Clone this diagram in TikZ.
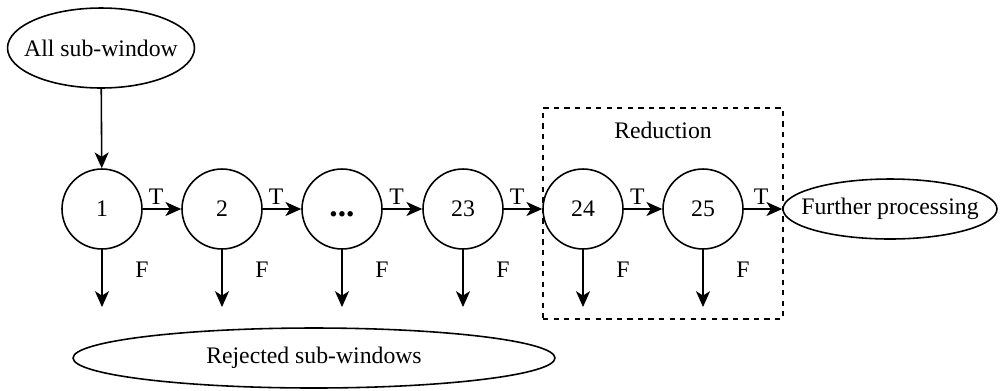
\documentclass[tikz,border=0pt]{standalone}
\usepackage{fontspec}
\setmainfont{Liberation Serif}
\usetikzlibrary{arrows.meta, shapes.geometric}

\tikzset{
   stage/.style={draw, circle, minimum size=1.6cm, inner sep=0pt},
   terminal/.style={draw, ellipse, inner xsep=-0.26cm, inner ysep=0pt},
   arr/.style={-{Stealth[length=9pt, width=8pt, inset=2.5pt]}}
}

\begin{document}
\begin{tikzpicture}[x=0.02cm, y=-0.02cm, line width=0.9pt,
      font=\fontsize{13.5}{16}\selectfont]
   \useasboundingbox (0,0) rectangle (1000,390);
   \def \Stages {
      1/102/1,
      2/222/2,
      3/342/\vphantom{1}\textbf{\fontsize{19}{20}\selectfont ...},
      4/463/23,
      5/583/24,
      6/703/25}
   \foreach \u / \x / \n in \Stages {
      \node[stage] (c\u) at (\x, 209){\n};
      \coordinate (d\u) at (\x, 307);
   }
   \node[terminal, minimum width=3.74cm, minimum height=1.6cm] (all) at (101, 48) {All sub-window};
   \node[terminal, minimum width=4.28cm, minimum height=1.2cm] (fur) at (890, 209) {Further processing};
   \node[terminal, minimum width=9.64cm, minimum height=1.2cm] (rej) at (314, 358) {Rejected sub-windows};
   % reduction stages
   \node[draw, dashed, line width=0.7pt, minimum width=4.8cm, minimum height=4.22cm, inner sep=0pt] (red) at (663, 213.5) {};
   \node (redlabel) at (663, 130) {Reduction};
   \draw[arr] (all) -- (c1);
   \foreach \u / \v in {1/2, 2/3, 3/4, 4/5, 5/6} {
      \draw[arr] (c\u) -- node[pos=0.35, above, yshift=-1.5pt] {T} (c\v);
   }
   \draw[arr] (c6) -- node[pos=0.45, above, yshift=-1.5pt] {T} (fur);
   \foreach \u in {1,...,6} {
      \draw[arr] (c\u) -- node[pos=0.35, xshift=0.8cm] {F} (d\u);
   }
\end{tikzpicture}
\end{document}
